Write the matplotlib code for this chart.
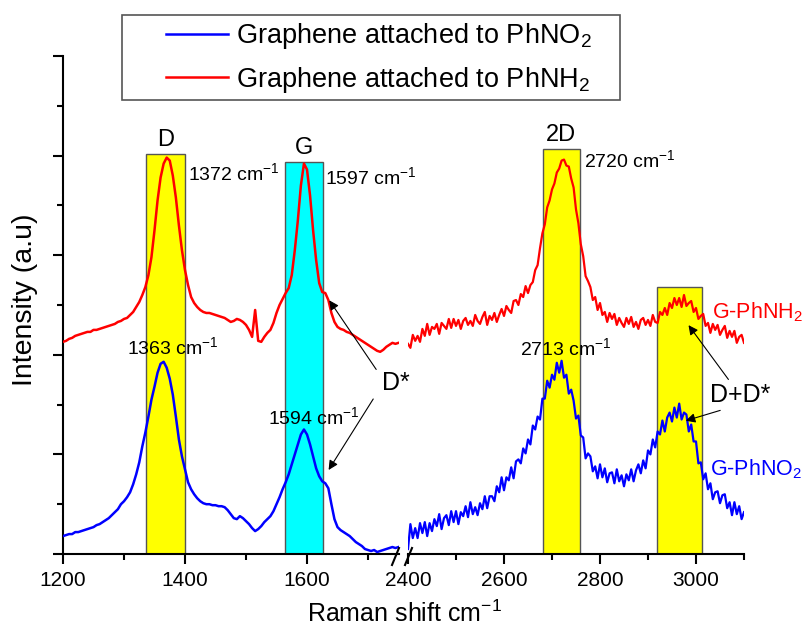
import numpy as np
import matplotlib.pyplot as plt
from matplotlib.patches import Rectangle
from matplotlib.lines import Line2D

plt.rcParams['font.family'] = ['Liberation Sans', 'DejaVu Sans']
plt.rcParams['mathtext.fontset'] = 'custom'
plt.rcParams['mathtext.rm'] = 'Liberation Sans'
plt.rcParams['mathtext.it'] = 'Liberation Sans:italic'
plt.rcParams['mathtext.bf'] = 'Liberation Sans:bold'

# Raman shift grids (cm-1), 5 cm-1 steps, broken axis
shift_low = np.arange(1200, 1755, 5)
shift_high = np.arange(2400, 3105, 5)

# Graphene attached to PhNH2 (offset spectrum)
nh2_low = [2.13, 2.14, 2.16, 2.17, 2.19, 2.20, 2.21, 2.22, 2.23, 2.23,
           2.25, 2.25, 2.26, 2.27, 2.28, 2.29, 2.30, 2.31, 2.33, 2.34,
           2.36, 2.37, 2.40, 2.43, 2.48, 2.53, 2.60, 2.68, 2.80, 2.98,
           3.25, 3.55, 3.78, 3.92, 3.98, 3.95, 3.80, 3.58, 3.30, 3.05,
           2.85, 2.70, 2.58, 2.52, 2.48, 2.45, 2.43, 2.42, 2.42, 2.41,
           2.40, 2.39, 2.38, 2.37, 2.35, 2.33, 2.34, 2.36, 2.35, 2.33,
           2.30, 2.25, 2.18, 2.45, 2.14, 2.13, 2.18, 2.22, 2.25, 2.32,
           2.42, 2.50, 2.56, 2.62, 2.67, 2.80, 3.05, 3.35, 3.70, 3.92,
           3.86, 3.60, 3.25, 2.95, 2.72, 2.63, 2.62, 2.55, 2.42, 2.33,
           2.28, 2.26, 2.25, 2.23, 2.22, 2.20, 2.18, 2.16, 2.14, 2.12,
           2.10, 2.08, 2.06, 2.04, 2.03, 2.05, 2.08, 2.10, 2.12, 2.11,
           2.12]
nh2_high = [2.11, 2.07, 2.20, 2.14, 2.19, 2.13, 2.26, 2.19, 2.31, 2.20,
            2.28, 2.26, 2.31, 2.21, 2.32, 2.29, 2.26, 2.36, 2.27, 2.36,
            2.29, 2.35, 2.26, 2.34, 2.37, 2.30, 2.34, 2.29, 2.40, 2.34,
            2.31, 2.38, 2.43, 2.30, 2.39, 2.35, 2.42, 2.33, 2.40, 2.46,
            2.39, 2.49, 2.45, 2.42, 2.54, 2.55, 2.50, 2.61, 2.58, 2.69,
            2.62, 2.70, 2.73, 2.85, 2.90, 3.07, 3.22, 3.31, 3.48, 3.55,
            3.66, 3.72, 3.83, 3.87, 3.95, 3.96, 3.90, 3.89, 3.77, 3.68,
            3.46, 3.32, 3.11, 2.99, 2.79, 2.74, 2.68, 2.55, 2.58, 2.45,
            2.52, 2.40, 2.43, 2.33, 2.42, 2.36, 2.41, 2.30, 2.37, 2.32,
            2.28, 2.37, 2.31, 2.38, 2.28, 2.33, 2.26, 2.35, 2.37, 2.30,
            2.35, 2.29, 2.40, 2.33, 2.32, 2.43, 2.40, 2.47, 2.40, 2.52,
            2.47, 2.57, 2.50, 2.57, 2.48, 2.60, 2.49, 2.52, 2.54, 2.43,
            2.47, 2.36, 2.39, 2.41, 2.29, 2.32, 2.22, 2.31, 2.25, 2.30,
            2.20, 2.25, 2.29, 2.17, 2.24, 2.18, 2.24, 2.12, 2.18, 2.20,
            2.12]

# Graphene attached to PhNO2
no2_low = [0.18, 0.19, 0.20, 0.20, 0.22, 0.22, 0.23, 0.24, 0.25, 0.26,
           0.27, 0.29, 0.30, 0.32, 0.34, 0.36, 0.39, 0.42, 0.45, 0.50,
           0.53, 0.57, 0.62, 0.70, 0.80, 0.92, 1.08, 1.22, 1.38, 1.55,
           1.68, 1.82, 1.91, 1.93, 1.87, 1.76, 1.60, 1.38, 1.15, 0.98,
           0.85, 0.72, 0.65, 0.60, 0.56, 0.53, 0.51, 0.50, 0.50, 0.49,
           0.49, 0.48, 0.48, 0.47, 0.44, 0.40, 0.36, 0.35, 0.38, 0.36,
           0.33, 0.30, 0.26, 0.23, 0.25, 0.28, 0.32, 0.35, 0.38, 0.43,
           0.50, 0.57, 0.65, 0.72, 0.80, 0.90, 1.00, 1.10, 1.20, 1.25,
           1.20, 1.10, 0.98, 0.86, 0.78, 0.73, 0.71, 0.66, 0.50, 0.35,
           0.27, 0.24, 0.22, 0.20, 0.18, 0.15, 0.12, 0.10, 0.08, 0.05,
           0.04, 0.03, 0.04, 0.02, 0.03, 0.04, 0.05, 0.06, 0.07, 0.06,
           0.07]
no2_high = [0.05, 0.30, 0.16, 0.26, 0.16, 0.31, 0.21, 0.32, 0.18, 0.31,
            0.23, 0.35, 0.28, 0.40, 0.25, 0.36, 0.39, 0.29, 0.43, 0.32,
            0.43, 0.30, 0.42, 0.38, 0.48, 0.37, 0.52, 0.40, 0.47, 0.39,
            0.51, 0.45, 0.58, 0.46, 0.58, 0.58, 0.53, 0.68, 0.62, 0.77,
            0.64, 0.77, 0.74, 0.87, 0.76, 0.93, 0.95, 0.91, 1.06, 1.01,
            1.15, 1.10, 1.29, 1.25, 1.38, 1.35, 1.56, 1.56, 1.74, 1.67,
            1.80, 1.75, 1.92, 1.82, 1.94, 1.77, 1.80, 1.61, 1.65, 1.54,
            1.36, 1.39, 1.19, 1.17, 0.96, 1.01, 0.98, 0.83, 0.88, 0.76,
            0.90, 0.77, 0.86, 0.72, 0.81, 0.82, 0.71, 0.85, 0.73, 0.79,
            0.68, 0.80, 0.74, 0.85, 0.73, 0.84, 0.90, 0.81, 0.94, 0.86,
            1.04, 1.00, 1.15, 1.07, 1.23, 1.20, 1.34, 1.23, 1.37, 1.42,
            1.33, 1.47, 1.37, 1.51, 1.35, 1.42, 1.40, 1.23, 1.30, 1.13,
            1.13, 0.91, 0.92, 0.75, 0.81, 0.65, 0.71, 0.55, 0.62, 0.63,
            0.51, 0.59, 0.60, 0.46, 0.52, 0.39, 0.52, 0.40, 0.48, 0.35,
            0.42]

# highlighted bands: (label, start, end, top, colour)
bands_low = [('D', 1336, 1400, 4.02, '#ffff00'),
             ('G', 1564, 1626, 3.94, '#00ffff')]
bands_high = [('2D', 2681, 2758, 4.07, '#ffff00'),
              ('', 2919, 3012, 2.68, '#ffff00')]

fig = plt.figure(figsize=(8.07, 6.37), dpi=100)
W, H = 807, 637


def fig_box(x0, x1, y_top, y_bot):
    return [x0 / W, 1 - y_bot / H, (x1 - x0) / W, (y_bot - y_top) / H]


ax1 = fig.add_axes(fig_box(63, 398.5, 56, 554))
ax2 = fig.add_axes(fig_box(408, 744, 56, 554))

for ax, bands in ((ax1, bands_low), (ax2, bands_high)):
    for name, x0, x1, top, col in bands:
        ax.bar((x0 + x1) / 2, top, width=x1 - x0, color=col,
               edgecolor='#555555', linewidth=1, zorder=1)
        if name:
            ax.text((x0 + x1) / 2, top + 0.03, name, ha='center', va='bottom',
                    fontsize=17)

ax1.plot(shift_low, no2_low, color='#0000ff', lw=1.8, zorder=3,
         label='Graphene attached to PhNO$_2$')
ax1.plot(shift_low, nh2_low, color='#ff0000', lw=1.8, zorder=3,
         label='Graphene attached to PhNH$_2$')
ax2.plot(shift_high, no2_high, color='#0000ff', lw=1.6, zorder=3)
ax2.plot(shift_high, nh2_high, color='#ff0000', lw=1.6, zorder=3)

ax1.set_xlim(1200, 1750)
ax2.set_xlim(2400, 3100)
for ax in (ax1, ax2):
    ax.set_ylim(0, 5)
    ax.spines['top'].set_visible(False)
    ax.spines['right'].set_visible(False)
    ax.spines['bottom'].set_linewidth(1.5)
    ax.spines['left'].set_linewidth(1.5)
    ax.tick_params(axis='both', which='major', direction='out', length=7.5,
                   width=1.5, labelsize=15, pad=5)
    ax.tick_params(axis='both', which='minor', direction='out', length=4,
                   width=1.5)
    ax.patch.set_visible(False)

ax1.set_xticks([1200, 1400, 1600])
ax1.set_xticks([1300, 1500, 1700], minor=True)
ax1.set_yticks([0, 1, 2, 3, 4, 5])
ax1.set_yticks([0.5, 1.5, 2.5, 3.5, 4.5], minor=True)
ax1.set_yticklabels([])
ax2.set_xticks([2400, 2600, 2800, 3000])
ax2.set_xticks([2500, 2700, 2900, 3100], minor=True)
ax2.spines['left'].set_visible(False)
ax2.set_yticks([])

# axis break marks
for px in (396, 409):
    fig.add_artist(Line2D([(px - 4) / W, (px + 3) / W],
                          [1 - 565 / H, 1 - 548 / H], color='black', lw=1.5))

# peak positions
ax1.text(1405, 3.75, '1372 cm$^{-1}$', fontsize=14)
ax1.text(1630, 3.71, '1597 cm$^{-1}$', fontsize=14)
ax1.text(1305, 2.01, '1363 cm$^{-1}$', fontsize=14)
ax1.text(1536, 1.30, '1594 cm$^{-1}$', fontsize=14)
ax2.text(2767, 3.88, '2720 cm$^{-1}$', fontsize=14)
ax2.text(2633, 2.00, '2713 cm$^{-1}$', fontsize=14)

arrow = dict(arrowstyle='-|>', color='black', lw=0.8, mutation_scale=14)
ax1.text(1723, 1.72, 'D*', fontsize=18, va='center')
ax1.annotate('', xy=(1634, 2.57), xytext=(1716, 1.83), arrowprops=arrow)
ax1.annotate('', xy=(1633, 0.82), xytext=(1711, 1.58), arrowprops=arrow)
ax2.text(3029, 1.60, 'D+D*', fontsize=18, va='center')
ax2.annotate('', xy=(2981, 2.32), xytext=(3071, 1.73), arrowprops=arrow)
ax2.annotate('', xy=(2973, 1.33), xytext=(3056, 1.45), arrowprops=arrow)

ax2.text(3033, 2.43, 'G-PhNH$_2$', fontsize=15.5, color='#ff0000', va='center')
ax2.text(3029, 0.85, 'G-PhNO$_2$', fontsize=15.5, color='#0000ff', va='center')

fig.text(404 / W, 1 - 614 / H, 'Raman shift cm$^{-1}$', fontsize=18,
         ha='center', va='center')
fig.text(25 / W, 1 - 300 / H, 'Intensity (a.u)', fontsize=20.5, rotation=90,
         ha='center', va='center')

fig.legend(loc='upper left', bbox_to_anchor=(166 / W, 1 - 21 / H),
           frameon=False, fontsize=19.5, handlelength=2.3, handletextpad=0.3,
           borderpad=0, borderaxespad=0, labelspacing=0.5)
fig.add_artist(Rectangle((122 / W, 1 - 100 / H), 498 / W, 85 / H,
                         transform=fig.transFigure, fill=False,
                         edgecolor='#555555', lw=1.2))

fig.savefig('out.png', dpi=100)
